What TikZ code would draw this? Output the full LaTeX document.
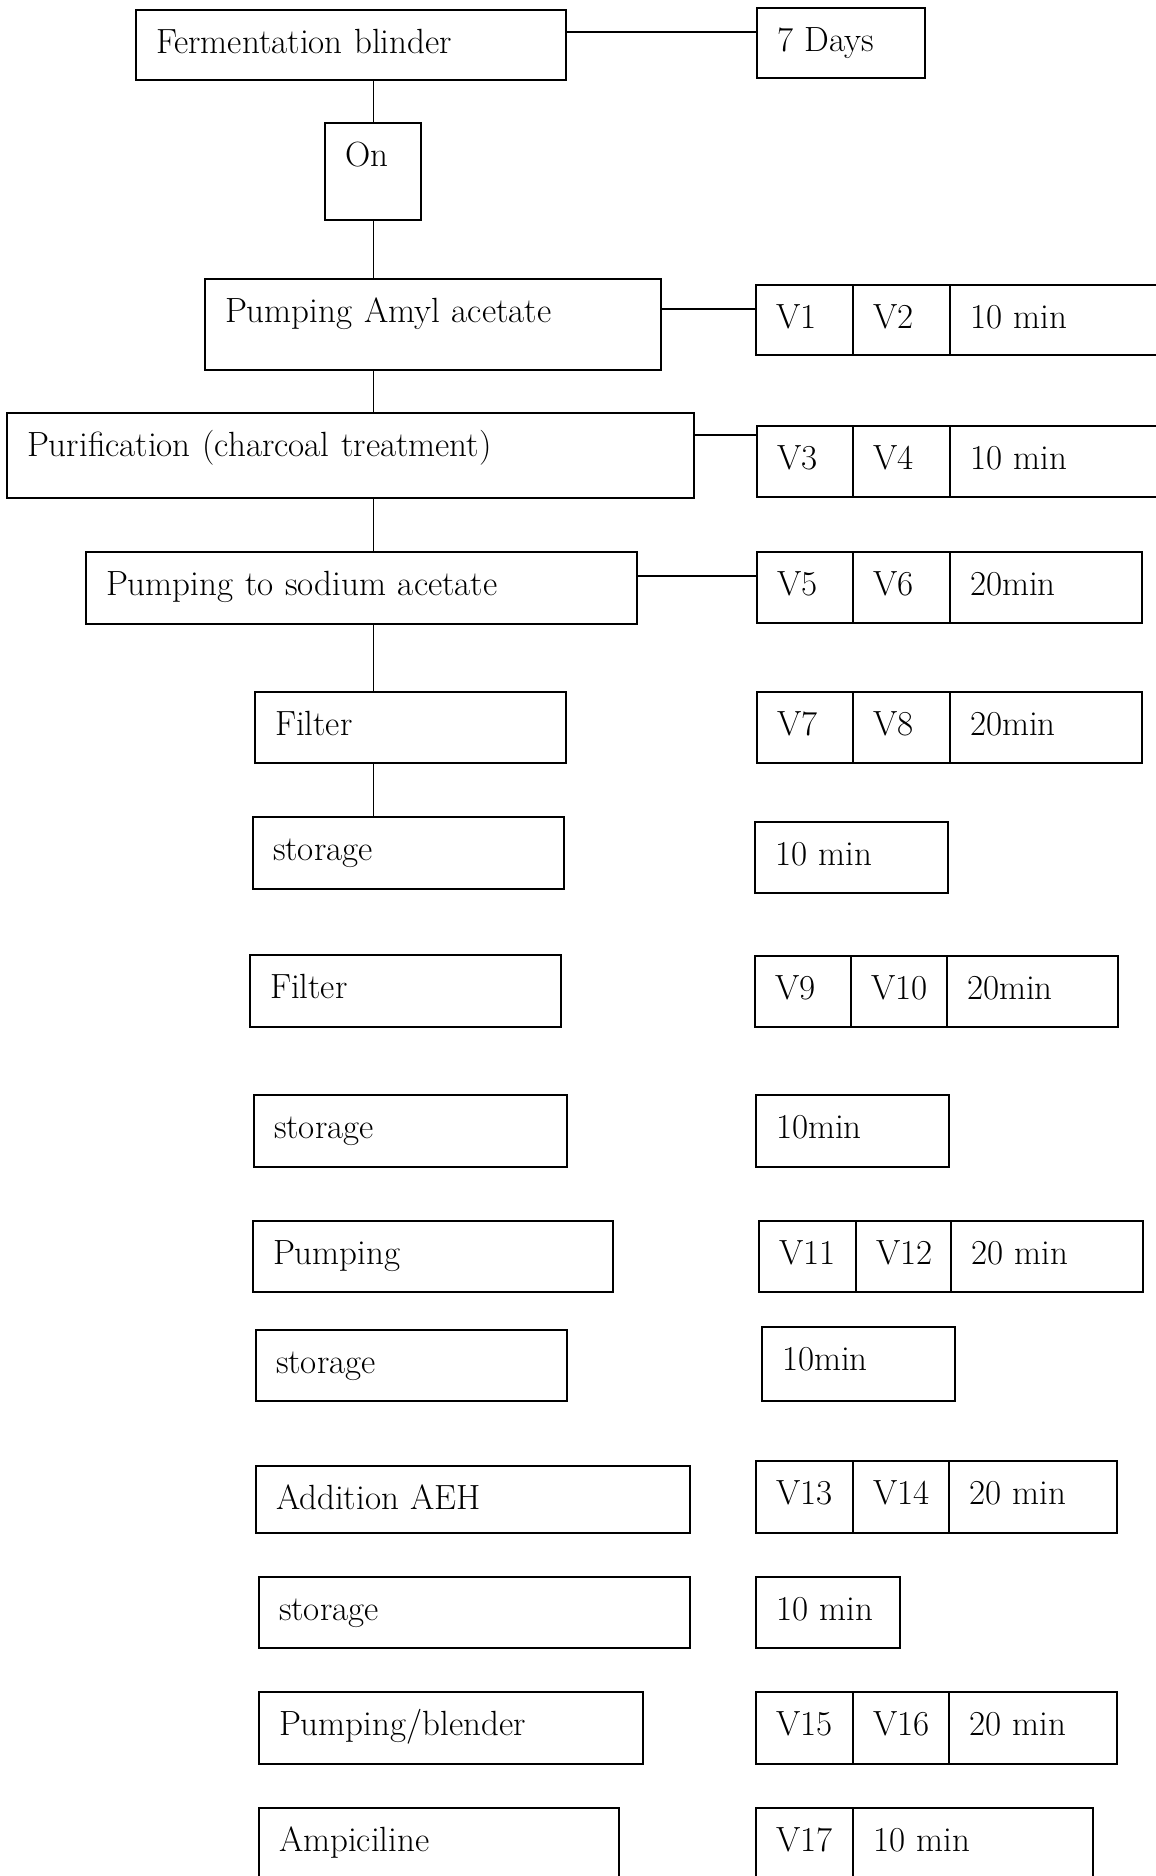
\documentclass[tikz,border=0pt]{standalone}
\begin{document}
\begin{tikzpicture}[x=0.5pt, y=-0.5pt,
  font=\fontsize{17.5}{20}\selectfont,
  stepbox/.style 2 args={draw, line width=0.6pt, anchor=north west, align=left, outer sep=0pt,
    inner xsep=10pt, inner ysep=0pt, text height=21.5pt, text width=#1, text depth=#2},
  spine/.style={line width=0.5pt},
  link/.style={line width=0.9pt}]
  \useasboundingbox (0,0) rectangle (1156,1876);
  % Process steps
  \node[stepbox={195pt}{13.5pt}] (ferm) at (136,10) {Fermentation blinder};
  \node[stepbox={28pt}{27pt}] (on) at (325,123) {On};
  \node[stepbox={208pt}{24pt}] (amyl) at (205,279) {Pumping Amyl acetate};
  \node[stepbox={323.5pt}{21pt}] (purif) at (7,413) {Purification (charcoal treatment)};
  \node[stepbox={255.5pt}{14.5pt}] (sodium) at (86,552) {Pumping to sodium acetate};
  \node[stepbox={135.5pt}{14pt}] (filta) at (255,692) {Filter};
  \node[stepbox={135.5pt}{14.5pt}] (stora) at (253,817) {storage};
  \node[stepbox={135.5pt}{14.5pt}] (filtb) at (250,955) {Filter};
  \node[stepbox={136.5pt}{14.5pt}] (storb) at (254,1095) {storage};
  \node[stepbox={160pt}{14pt}] (pump) at (253,1221) {Pumping};
  \node[stepbox={135.5pt}{14pt}] (storc) at (256,1330) {storage};
  \node[stepbox={197pt}{12pt}] (aeh) at (256,1466) {Addition AEH};
  \node[stepbox={195.5pt}{14pt}] (stord) at (259,1577) {storage};
  \node[stepbox={172pt}{14.5pt}] (blend) at (259,1692) {Pumping/blender};
  \node[stepbox={160pt}{18.5pt}] (ampi) at (259,1808) {Ampiciline};
  % Valves and times
  \node[stepbox={64pt}{13.5pt}] (days) at (757,8) {7 Days};
  \node[stepbox={28.5pt}{13.5pt}] (va) at (756,285) {V1};
  \node[stepbox={28.5pt}{13.5pt}] (vb) at (va.north east) {V2};
  \node[stepbox={95pt}{13.5pt}] (ta) at (vb.north east) {10 min};
  \node[stepbox={28pt}{14pt}] (vc) at (757,426) {V3};
  \node[stepbox={28.5pt}{14pt}] (vd) at (vc.north east) {V4};
  \node[stepbox={95pt}{14pt}] (tb) at (vd.north east) {10 min};
  \node[stepbox={28pt}{14pt}] (ve) at (757,552) {V5};
  \node[stepbox={28.5pt}{14pt}] (vf) at (ve.north east) {V6};
  \node[stepbox={76pt}{14pt}] (tc) at (vf.north east) {20min};
  \node[stepbox={28pt}{14pt}] (vg) at (757,692) {V7};
  \node[stepbox={28.5pt}{14pt}] (vh) at (vg.north east) {V8};
  \node[stepbox={76pt}{14pt}] (td) at (vh.north east) {20min};
  \node[stepbox={76.5pt}{14pt}] (te) at (755,822) {10 min};
  \node[stepbox={28pt}{14pt}] (vi) at (755,956) {V9};
  \node[stepbox={28pt}{14pt}] (vj) at (vi.north east) {V10};
  \node[stepbox={65.5pt}{14pt}] (tf) at (vj.north east) {20min};
  \node[stepbox={76.5pt}{14.5pt}] (tg) at (756,1095) {10min};
  \node[stepbox={28.5pt}{14pt}] (vk) at (759,1221) {V11};
  \node[stepbox={27.5pt}{14pt}] (vl) at (vk.north east) {V12};
  \node[stepbox={76pt}{14pt}] (th) at (vl.north east) {20 min};
  \node[stepbox={76.5pt}{15.5pt}] (ti) at (762,1327) {10min};
  \node[stepbox={28.5pt}{14.5pt}] (vm) at (756,1461) {V13};
  \node[stepbox={28pt}{14.5pt}] (vn) at (vm.north east) {V14};
  \node[stepbox={64pt}{14.5pt}] (tj) at (vn.north east) {20 min};
  \node[stepbox={52pt}{14pt}] (tk) at (756,1577) {10 min};
  \node[stepbox={28.5pt}{14.5pt}] (vo) at (756,1692) {V15};
  \node[stepbox={28pt}{14.5pt}] (vp) at (vo.north east) {V16};
  \node[stepbox={64pt}{14.5pt}] (tl) at (vp.north east) {20 min};
  \node[stepbox={28.5pt}{18.5pt}] (vq) at (756,1808) {V17};
  \node[stepbox={100pt}{18.5pt}] (tm) at (vq.north east) {10 min};
  % Main line
  \draw[spine] (on.north) -- (on.north |- ferm.south);
  \draw[spine] (on.south) -- (on.south |- amyl.north);
  \draw[spine] (amyl.south -| on) -- (purif.north -| on);
  \draw[spine] (purif.south -| on) -- (sodium.north -| on);
  \draw[spine] (sodium.south -| on) -- (filta.north -| on);
  \draw[spine] (filta.south -| on) -- (stora.north -| on);
  % Side links
  \draw[link] ([yshift=6.5pt]ferm.east) -- ([yshift=6.5pt]ferm.east -| days.west);
  \draw[link] ([yshift=7.75pt]amyl.east) -- ([yshift=7.75pt]amyl.east -| va.west);
  \draw[link] ([yshift=10.25pt]purif.east) -- ([yshift=10.25pt]purif.east -| vc.west);
  \draw[link] ([yshift=6pt]sodium.east) -- ([yshift=6pt]sodium.east -| ve.west);
\end{tikzpicture}
\end{document}
